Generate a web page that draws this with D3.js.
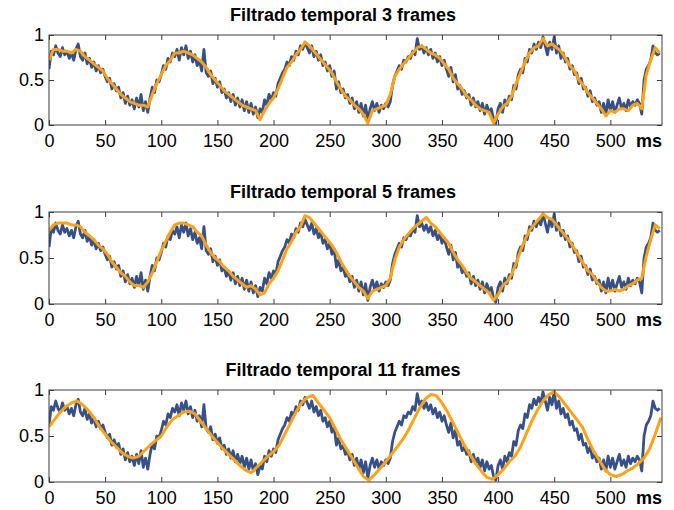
<!DOCTYPE html>
<html><head><meta charset="utf-8">
<script src="https://cdn.jsdelivr.net/npm/d3@7"></script>
<style>body{margin:0;background:#fff}svg{display:block}text{font-family:"Liberation Sans",Arial,sans-serif}</style>
</head><body><svg id="c" width="674" height="510"></svg>
<script>
// ---- data ----
const titles = ["Filtrado temporal 3 frames", "Filtrado temporal 5 frames", "Filtrado temporal 11 frames"];
const xTicks = [0, 50, 100, 150, 200, 250, 300, 350, 400, 450, 500];
const yTicks = [0, 0.5, 1];
const yTickLabels = ["0", "0.5", "1"];
const xUnit = "ms";
const xMax = 546;

const signalStep = 2; // ms
const signal = [
0.62,0.82,0.78,0.88,0.80,0.76,0.86,0.78,0.82,0.74,
0.80,0.72,0.84,0.90,0.76,0.72,0.80,0.68,0.74,0.64,
0.70,0.60,0.66,0.58,0.62,0.54,0.48,0.52,0.40,0.46,
0.38,0.42,0.30,0.36,0.24,0.32,0.22,0.28,0.18,0.30,
0.20,0.34,0.16,0.26,0.14,0.30,0.42,0.36,0.50,0.48,
0.56,0.66,0.62,0.74,0.70,0.80,0.76,0.84,0.72,0.86,
0.78,0.88,0.74,0.82,0.70,0.78,0.66,0.72,0.60,0.84,
0.58,0.54,0.60,0.46,0.52,0.42,0.48,0.36,0.40,0.30,
0.36,0.26,0.34,0.22,0.30,0.20,0.28,0.16,0.26,0.14,
0.24,0.12,0.20,0.08,0.18,0.14,0.28,0.22,0.34,0.28,
0.36,0.32,0.46,0.52,0.58,0.62,0.70,0.66,0.76,0.72,
0.82,0.78,0.88,0.84,0.92,0.86,0.80,0.88,0.76,0.82,
0.72,0.78,0.66,0.70,0.60,0.66,0.54,0.60,0.40,0.48,
0.36,0.40,0.30,0.34,0.24,0.30,0.18,0.26,0.14,0.24,
0.10,0.22,0.04,0.18,0.26,0.16,0.24,0.14,0.22,0.18,
0.24,0.20,0.26,0.44,0.54,0.60,0.66,0.62,0.72,0.70,
0.76,0.74,0.82,0.78,0.96,0.84,0.88,0.80,0.86,0.78,
0.84,0.74,0.80,0.70,0.76,0.66,0.72,0.62,0.54,0.64,
0.48,0.56,0.40,0.44,0.34,0.38,0.30,0.34,0.22,0.30,
0.20,0.26,0.16,0.24,0.12,0.22,0.14,0.18,0.06,0.02,
0.18,0.24,0.14,0.28,0.22,0.32,0.28,0.44,0.40,0.56,
0.62,0.58,0.74,0.70,0.84,0.80,0.90,0.84,0.92,0.86,
0.98,0.88,0.78,0.92,0.84,0.98,0.80,0.88,0.74,0.80,
0.70,0.74,0.62,0.66,0.56,0.58,0.46,0.52,0.40,0.42,
0.32,0.38,0.26,0.30,0.22,0.26,0.14,0.24,0.12,0.28,
0.16,0.26,0.14,0.22,0.30,0.18,0.24,0.16,0.28,0.20,
0.26,0.22,0.28,0.24,0.12,0.50,0.62,0.66,0.72,0.88,
0.80,0.78,0.80
];

const filt3Step = 4;
const filt3 = [
0.72,0.84,0.84,0.82,0.82,0.80,0.84,0.82,0.76,0.72,
0.68,0.64,0.60,0.52,0.46,0.40,0.34,0.30,0.26,0.24,
0.22,0.22,0.20,0.34,0.46,0.56,0.66,0.72,0.80,0.80,
0.82,0.80,0.78,0.74,0.70,0.64,0.56,0.50,0.44,0.38,
0.34,0.30,0.26,0.22,0.20,0.18,0.16,0.06,0.16,0.24,
0.30,0.40,0.52,0.64,0.70,0.78,0.84,0.92,0.88,0.82,
0.76,0.70,0.64,0.58,0.48,0.40,0.32,0.28,0.22,0.18,
0.12,0.02,0.16,0.18,0.20,0.22,0.34,0.54,0.62,0.68,
0.74,0.80,0.86,0.88,0.84,0.80,0.78,0.74,0.68,0.62,
0.52,0.46,0.40,0.32,0.28,0.22,0.18,0.16,0.14,0.02,
0.12,0.20,0.24,0.32,0.46,0.58,0.70,0.80,0.86,0.88,
0.96,0.88,0.90,0.86,0.82,0.74,0.66,0.60,0.50,0.44,
0.36,0.30,0.24,0.18,0.10,0.16,0.14,0.18,0.18,0.16,
0.22,0.24,0.18,0.56,0.72,0.86,0.80
];

const filt5Step = 4;
const filt5 = [
0.80,0.86,0.88,0.88,0.88,0.86,0.86,0.84,0.78,0.74,
0.70,0.64,0.60,0.54,0.46,0.40,0.34,0.30,0.24,0.20,
0.20,0.18,0.24,0.34,0.46,0.58,0.68,0.78,0.86,0.88,
0.88,0.86,0.84,0.78,0.74,0.64,0.56,0.50,0.46,0.40,
0.36,0.30,0.26,0.22,0.18,0.20,0.16,0.10,0.12,0.22,
0.28,0.36,0.48,0.60,0.68,0.78,0.84,0.96,0.94,0.88,
0.82,0.76,0.70,0.64,0.56,0.46,0.38,0.30,0.24,0.18,
0.14,0.06,0.14,0.16,0.18,0.20,0.28,0.48,0.62,0.70,
0.76,0.82,0.86,0.90,0.94,0.88,0.84,0.78,0.72,0.66,
0.56,0.48,0.42,0.34,0.28,0.24,0.20,0.16,0.12,0.04,
0.10,0.20,0.24,0.32,0.44,0.58,0.70,0.80,0.86,0.92,
0.98,0.94,0.92,0.86,0.80,0.74,0.68,0.60,0.52,0.44,
0.36,0.32,0.24,0.18,0.14,0.14,0.16,0.14,0.16,0.20,
0.22,0.26,0.28,0.52,0.70,0.86,0.82
];

const filt11Step = 5;
const filt11 = [
0.60,0.68,0.76,0.82,0.86,0.88,0.84,0.78,0.70,0.60,
0.52,0.44,0.38,0.32,0.28,0.26,0.28,0.34,0.40,0.45,
0.50,0.60,0.68,0.72,0.76,0.77,0.74,0.66,0.58,0.50,
0.43,0.36,0.30,0.24,0.18,0.13,0.10,0.16,0.22,0.28,
0.33,0.40,0.52,0.64,0.76,0.86,0.92,0.94,0.86,0.78,
0.70,0.58,0.46,0.36,0.26,0.16,0.06,0.02,0.08,0.15,
0.22,0.30,0.38,0.46,0.56,0.68,0.80,0.90,0.95,0.94,
0.86,0.76,0.64,0.52,0.40,0.30,0.20,0.12,0.05,0.03,
0.08,0.14,0.22,0.28,0.38,0.52,0.66,0.78,0.88,0.95,
0.98,0.92,0.84,0.76,0.68,0.60,0.46,0.34,0.24,0.14,
0.08,0.06,0.08,0.12,0.15,0.20,0.26,0.36,0.52,0.70
];

// ---- drawing ----
const svg = d3.select("#c");
const L = 49, R = 662;
const panels = [
  {title: titles[0], f: filt3, step: filt3Step, top: 35, bottom: 125, ty: 21},
  {title: titles[1], f: filt5, step: filt5Step, top: 212, bottom: 304, ty: 198},
  {title: titles[2], f: filt11, step: filt11Step, top: 390, bottom: 482, ty: 376}
];
const x = d3.scaleLinear().domain([0, xMax]).range([L, R]);
const blue = "#36508a", orange = "#ffa214", axisCol = "#3c3c3c";

panels.forEach((p, i) => {
  const y = d3.scaleLinear().domain([0, 1]).range([p.bottom, p.top]);
  const g = svg.append("g");
  const cid = "clip" + i;
  svg.append("clipPath").attr("id", cid).append("rect")
    .attr("x", L).attr("y", p.top - 2).attr("width", R - L).attr("height", p.bottom - p.top + 4);

  const lineS = d3.line().x((d, k) => x(k * signalStep)).y(d => y(d));
  const lineF = d3.line().x((d, k) => x(k * p.step)).y(d => y(d));

  g.append("path").datum(signal).attr("d", lineS).attr("clip-path", `url(#${cid})`)
    .attr("fill", "none").attr("stroke", blue).attr("stroke-width", 2.8).attr("stroke-linejoin", "round");
  g.append("path").datum(p.f).attr("d", lineF).attr("clip-path", `url(#${cid})`)
    .attr("fill", "none").attr("stroke", orange).attr("stroke-width", 3).attr("stroke-linejoin", "round");

  const axB = g.append("g").attr("transform", `translate(0,${p.bottom})`)
    .call(d3.axisBottom(x).tickValues(xTicks).tickSizeInner(-5).tickSizeOuter(0).tickPadding(9));
  const axT = g.append("g").attr("transform", `translate(0,${p.top})`)
    .call(d3.axisTop(x).tickValues(xTicks).tickFormat("").tickSizeInner(-5).tickSizeOuter(0));
  const axL = g.append("g").attr("transform", `translate(${L},0)`)
    .call(d3.axisLeft(y).tickValues(yTicks).tickFormat((d, k) => yTickLabels[k]).tickSizeInner(-5).tickSizeOuter(0).tickPadding(5));
  const axR = g.append("g").attr("transform", `translate(${R},0)`)
    .call(d3.axisRight(y).tickValues(yTicks).tickFormat("").tickSizeInner(-5).tickSizeOuter(0));
  [axB, axT, axL, axR].forEach(a => {
    a.select(".domain").remove();
    a.selectAll("line").attr("stroke", axisCol);
    a.selectAll("text").attr("fill", "#000").style("font-size", "18px");
  });

  g.append("rect").attr("x", L).attr("y", p.top).attr("width", R - L).attr("height", p.bottom - p.top)
    .attr("fill", "none").attr("stroke", axisCol).attr("stroke-width", 1);

  g.append("text").attr("x", R).attr("y", p.bottom + 22).attr("text-anchor", "end")
    .style("font-size", "18px").style("font-weight", "bold").text(xUnit);
  g.append("text").attr("x", 343).attr("y", p.ty).attr("text-anchor", "middle")
    .style("font-size", "18px").style("font-weight", "bold").text(p.title);
});
</script></body></html>
